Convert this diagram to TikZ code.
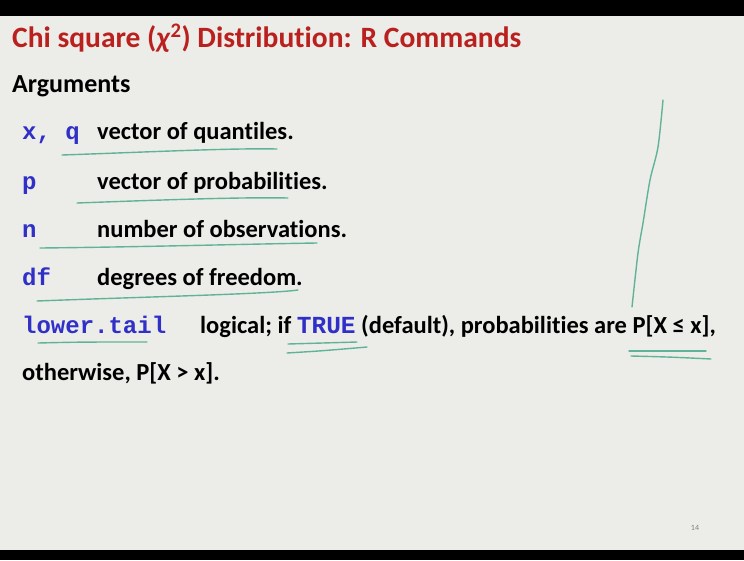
\documentclass[tikz,border=0pt]{standalone}
\usepackage{fontspec}
\setmainfont{Carlito}[Ligatures=NoCommon]
\newfontfamily\codefont{Liberation Mono}
\usetikzlibrary{positioning}

\definecolor{slidebg}{RGB}{236,236,232}
\definecolor{titlered}{RGB}{185,32,30}
\definecolor{codeblue}{RGB}{48,48,200}
\definecolor{pen}{RGB}{72,170,140}

\tikzset{
  txt/.style={anchor=base west, inner sep=0pt, font=\bfseries\fontsize{24.5}{28}\selectfont},
  code/.style={anchor=base west, inner sep=0pt, text=codeblue, font=\codefont\bfseries\fontsize{24}{28}\selectfont},
  ink/.style={draw=pen, line width=1.4pt, line cap=round, opacity=0.85},
}
\newcommand{\cw}[1]{{\codefont\color{codeblue}#1}}

\begin{document}
\begin{tikzpicture}[x=1pt,y=-1pt]
  \fill[slidebg] (0,0) rectangle (744,560);
  \fill[black] (0,0) rectangle (744,16);
  \fill[black] (0,550) rectangle (744,560);

  \node[txt, text=titlered, font=\bfseries\fontsize{29.5}{33}\selectfont] (title) at (12,47)
    {Chi square (\textit{χ}\textsuperscript{2}) Distribution: R Commands};
  \node[txt, font=\bfseries\fontsize{26}{30}\selectfont] (args) at (12,92) {Arguments};

  \node[code] (xq) at (22,139) {x, q};
  \node[txt] (quant) at (97,139) {vector of quantiles.};
  \node[code] (p) at (22,189) {p};
  \node[txt] (prob) at (97,189) {vector of probabilities.};
  \node[code] (n) at (22,237) {n};
  \node[txt] (obs) at (97,237) {number of observations.};
  \node[code] (df) at (22,285) {df};
  \node[txt] (free) at (97,285) {degrees of freedom.};
  \node[code] (lt) at (22,333) {lower.tail};
  \node[txt] (logical) at (200,333) {logical; if \cw{TRUE} (default), probabilities are P[X ≤ x],};
  \node[txt] (other) at (22,380) {otherwise, P[X > x].};

  \node[anchor=base, inner sep=0pt, text=gray, font=\fontsize{8}{9}\selectfont] (page) at (695,530) {14};

  \draw[ink] (62,155) .. controls (150,152) and (230,148) .. (277,149);
  \draw[ink] (77,203) .. controls (160,200) and (240,197) .. (288,198);
  \draw[ink] (40,248) .. controls (140,247) and (250,244) .. (317,243);
  \draw[ink] (37,301) .. controls (140,297) and (270,294) .. (298,290);
  \draw[ink] (38,343) .. controls (80,342) .. (147,342);
  \draw[ink] (288,344) -- (357,342);
  \draw[ink] (287,353) .. controls (320,351) .. (367,347);
  \draw[ink] (629,351) -- (706,351);
  \draw[ink] (631,356) .. controls (670,357) .. (711,359);
  \draw[ink] plot[smooth] coordinates {(663,100) (658,147) (650,180) (643,223) (638,253) (632,307)};
\end{tikzpicture}
\end{document}
